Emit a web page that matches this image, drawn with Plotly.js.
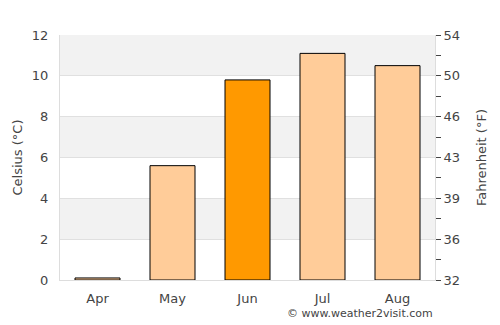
<!DOCTYPE html>
<html><head><meta charset="utf-8">
<script src="https://cdn.plot.ly/plotly-3.0.1.min.js"></script>
<style>html,body{margin:0;padding:0;background:#fff}#chart{width:500px;height:325px}</style>
</head><body><div id="chart"></div>
<script>
const months = ["Apr", "May", "Jun", "Jul", "Aug"];
const celsius = [0.1, 5.6, 9.8, 11.1, 10.5];
const barColors = ["#ffcc99", "#ffcc99", "#ff9900", "#ffcc99", "#ffcc99"];
const celsiusTicks = [0, 2, 4, 6, 8, 10, 12];
const fahrenheitLabels = ["32", "36", "39", "43", "46", "50", "54"];
const fahrenheitMinorC = [1, 3, 5, 7, 9, 11];

const font = {family: "DejaVu Sans, sans-serif", size: 13, color: "#444"};
// gray bands: 2-4, 6-8, 10-12
const grayBands = [[2, 4], [6, 8], [10, 12]].map(b => ({type: "rect", xref: "paper", yref: "y",
  x0: 0, x1: 1, y0: b[0], y1: b[1], fillcolor: "#f2f2f2", line: {width: 0}, layer: "below"}));

const traces = [
  {type: "bar", x: months, y: celsius, width: 0.6,
   marker: {color: barColors, line: {color: "#000", width: 1}}, hoverinfo: "skip"},
  {type: "scatter", x: months, y: celsius, yaxis: "y2", mode: "markers",
   marker: {opacity: 0}, hoverinfo: "skip", showlegend: false}
];

const layout = {
  width: 500, height: 325,
  margin: {l: 60, r: 65, t: 35, b: 45},
  paper_bgcolor: "#fff", plot_bgcolor: "rgba(0,0,0,0)",
  showlegend: false, font: font,
  xaxis: {showgrid: false, showline: true, linecolor: "#ddd", linewidth: 1,
    ticks: "outside", ticklen: 6, tickcolor: "rgba(0,0,0,0)", tickfont: font, fixedrange: true},
  yaxis: {range: [0, 12], tickvals: celsiusTicks, showgrid: true, gridcolor: "#e0e0e0",
    showline: true, linecolor: "#ddd", linewidth: 1, zeroline: false,
    ticks: "outside", ticklen: 8, tickcolor: "rgba(0,0,0,0)", tickfont: font,
    title: {text: "Celsius (°C)", font: font, standoff: 6}},
  yaxis2: {overlaying: "y", side: "right", range: [0, 12],
    tickvals: celsiusTicks.concat(fahrenheitMinorC),
    ticktext: fahrenheitLabels.concat(fahrenheitMinorC.map(() => "")),
    showgrid: false, zeroline: false, showline: true, linecolor: "#ddd", linewidth: 1,
    ticks: "outside", ticklen: 5, tickcolor: "#444", tickfont: font,
    title: {text: "Fahrenheit (°F)", font: font, standoff: 17}},
  shapes: grayBands,
  annotations: [{text: "© www.weather2visit.com", xref: "paper", yref: "paper",
    x: 1, y: 0, yshift: -33, xanchor: "right", yanchor: "middle", showarrow: false,
    font: {family: "DejaVu Sans, sans-serif", size: 11, color: "#444"}}]
};
Plotly.newPlot("chart", traces, layout, {displayModeBar: false, staticPlot: true});
</script></body></html>
